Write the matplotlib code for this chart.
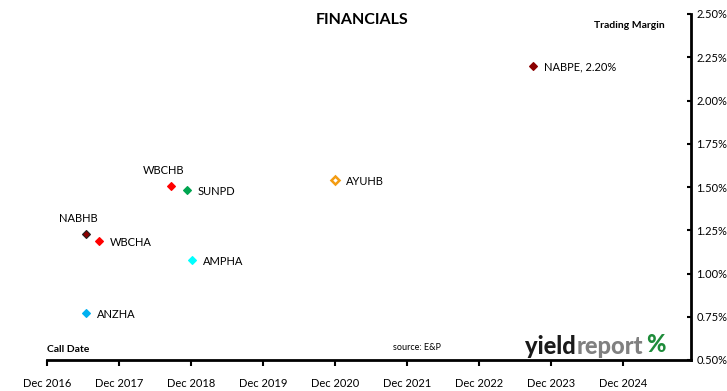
import datetime as dt
import matplotlib
matplotlib.use("Agg")
import matplotlib.pyplot as plt
import matplotlib.dates as mdates
from matplotlib.ticker import FuncFormatter

plt.rcParams['font.family'] = ['Lato', 'DejaVu Sans']

# bonds: call date, trading margin (%)
names = ["NABPE", "AYUHB", "WBCHB", "SUNPD", "NABHB", "WBCHA", "AMPHA", "ANZHA"]
call_dates = ["2023-09-01", "2020-12-01", "2018-08-20", "2018-11-10",
              "2017-06-15", "2017-08-20", "2018-12-05", "2017-06-15"]
margins = [2.20, 1.54, 1.506, 1.48, 1.23, 1.19, 1.08, 0.77]
labels = ["NABPE, 2.20%", "AYUHB", "WBCHB", "SUNPD", "NABHB", "WBCHA", "AMPHA", "ANZHA"]

face = ["#8b0000", "white", "#ff0000", "#00a550", "#8b0000", "#ff0000", "#00ffff", "#00b0f0"]
edge = ["#8b0000", "#f39c12", "#ff0000", "#00a550", "#222222", "#ff0000", "#00ffff", "#00b0f0"]
# label placement: "r" = right of marker, "a" = above
place = ["r", "r", "a", "r", "a", "r", "r", "r"]

x_ticks = [dt.date(y, 12, 1) for y in range(2016, 2025)]
y_ticks = [0.5, 0.75, 1.0, 1.25, 1.5, 1.75, 2.0, 2.25, 2.5]


def doit():
    fig = plt.figure(figsize=(7.27, 3.91), dpi=100)
    ax = fig.add_axes([47/727, 31/391, 644/727, 346/391])

    xs = [mdates.date2num(dt.date.fromisoformat(d)) for d in call_dates]
    for x, y, fc, ec, lab, p in zip(xs, margins, face, edge, labels, place):
        mew = 1.8 if fc == "white" else 0.8
        ax.plot([x], [y], marker="D", markersize=3.6, markerfacecolor=fc,
                markeredgecolor=ec, markeredgewidth=mew, linestyle="none")
        if p == "r":
            ax.annotate(lab, (x, y), xytext=(8, -1), textcoords="offset points",
                        ha="left", va="center", fontsize=8)
        else:
            ax.annotate(lab, (x, y), xytext=(-5, 7), textcoords="offset points",
                        ha="center", va="bottom", fontsize=8)

    ax.set_xlim(mdates.date2num(dt.date(2016, 12, 1)), mdates.date2num(dt.date(2025, 11, 10)))
    ax.set_ylim(0.5, 2.5)

    ax.set_xticks([mdates.date2num(d) for d in x_ticks])
    ax.set_xticklabels([d.strftime("Dec %Y") for d in x_ticks], fontsize=8)
    ax.yaxis.tick_right()
    ax.set_yticks(y_ticks)
    ax.yaxis.set_major_formatter(FuncFormatter(lambda v, p: "%.2f%%" % v))
    ax.tick_params(axis="y", labelsize=8, direction="in", length=3, width=1.5, pad=4)
    ax.tick_params(axis="x", direction="out", length=4, width=1.5, pad=9)

    for s in ["top", "left"]:
        ax.spines[s].set_visible(False)
    ax.spines["bottom"].set_linewidth(2)
    ax.spines["right"].set_linewidth(2)

    fig.text(362/727, 1 - 20/391, "FINANCIALS", ha="center", va="center",
             fontsize=11.5, fontweight="bold")
    fig.text(665/727, 1 - 25/391, "Trading Margin", ha="right", va="center",
             fontsize=7.5, fontweight="bold")
    fig.text(47/727, 1 - 350/391, "Call Date", ha="left", va="center",
             fontsize=7.5, fontweight="bold")
    fig.text(393/727, 1 - 347/391, "source: E&P", ha="left", va="center", fontsize=6.5)

    # yieldreport logo
    t1 = fig.text(525/727, 1 - 354/391, "yield", ha="left", va="baseline",
                  fontsize=17, fontweight="black", color="#1a1a1a")
    t2 = fig.text(0, 0, "report", ha="left", va="baseline",
                  fontsize=17, fontweight="black", color="#808080")
    t3 = fig.text(0, 0, "%", ha="left", va="baseline",
                  fontsize=17, fontweight="black", color="#1e8c3a")
    fig.canvas.draw()
    r = fig.canvas.get_renderer()
    b1 = t1.get_window_extent(r)
    t2.set_x((b1.x1 + 1) / fig.bbox.width)
    t2.set_y(t1.get_position()[1])
    b2 = t2.get_window_extent(r)
    t3.set_x((b2.x1 + 3) / fig.bbox.width)
    t3.set_y(t1.get_position()[1] + 2 / fig.bbox.height)

    fig.savefig("out.png", dpi=100)


if __name__ == "__main__":
    doit()
